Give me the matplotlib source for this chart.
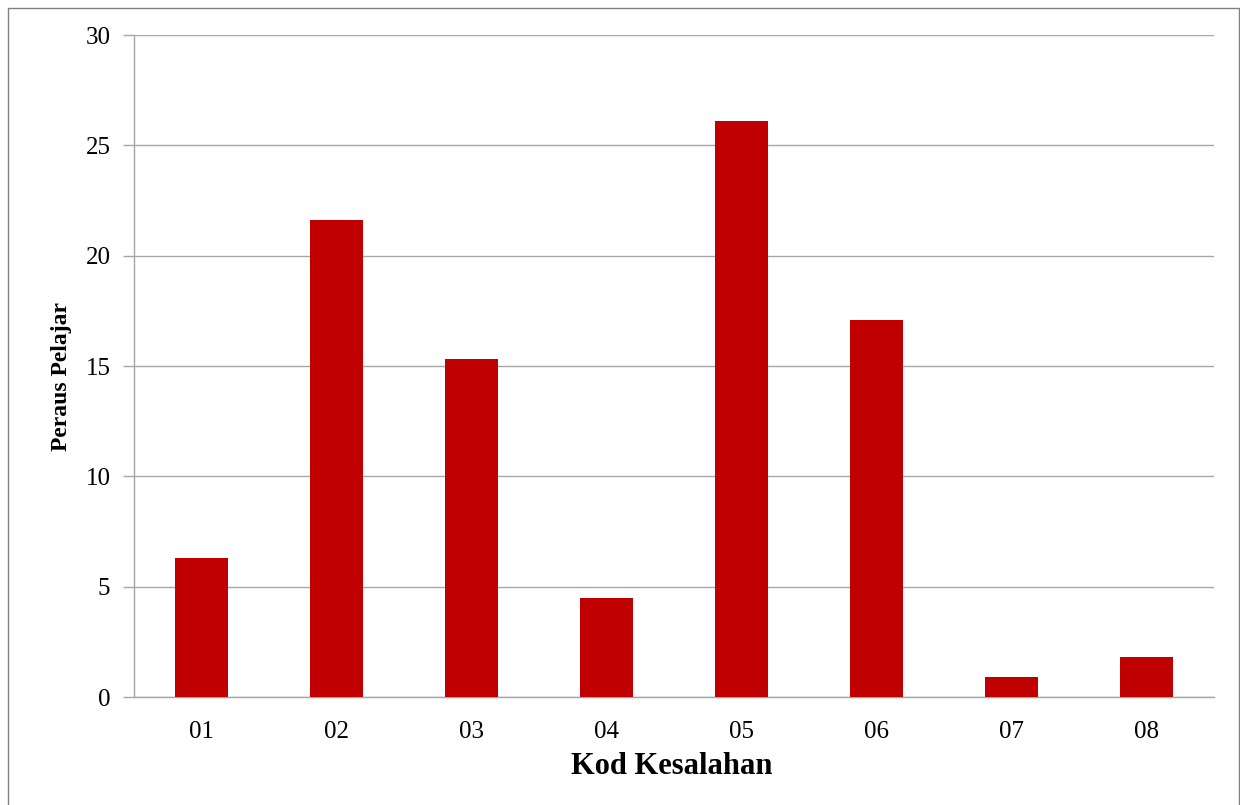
import matplotlib
matplotlib.use("Agg")
import matplotlib.pyplot as plt
from matplotlib.patches import Rectangle

categories = ["01", "02", "03", "04", "05", "06", "07", "08"]
values = [6.3, 21.6, 15.3, 4.5, 26.1, 17.1, 0.9, 1.8]
yticks = [0, 5, 10, 15, 20, 25, 30]

plt.rcParams['font.family'] = ['Liberation Serif', 'DejaVu Serif']

fig = plt.figure(figsize=(12.4, 8.05), dpi=100)
ax = fig.add_axes([134/1240, 1-697/805, (1214-134)/1240, (697-35)/805])

x = list(range(len(categories)))
ax.bar(x, values, width=0.39, color="#C00000", zorder=3)
ax.set_xlim(-0.5, len(categories)-0.5)
ax.set_ylim(0, 30)
ax.set_yticks(yticks)
ax.set_xticks(x)
ax.set_xticklabels(categories)
ax.yaxis.grid(True, color="#A6A6A6", linewidth=1.0, zorder=0)
ax.tick_params(axis='x', length=0, labelsize=18, pad=17)
ax.tick_params(axis='y', length=8, width=1.0, color="#A6A6A6", labelsize=18, pad=9)
for s in ["top", "right"]:
    ax.spines[s].set_visible(False)
for s in ["left", "bottom"]:
    ax.spines[s].set_color("#A6A6A6")
    ax.spines[s].set_linewidth(1.0)

fig.text(672/1240, 1-766/805, "Kod Kesalahan", ha="center", va="center",
         fontsize=22, fontweight="bold")
fig.text(62/1240, 1-376/805, "Peraus Pelajar", ha="center", va="center",
         fontsize=17, fontweight="bold", rotation=90)

fig.patches.append(Rectangle((8/1240, -0.01), (1239-8)/1240, 1-8/805+0.01,
                             transform=fig.transFigure, fill=False,
                             edgecolor="#808080", linewidth=1.0))

fig.savefig("out.png", dpi=100)
